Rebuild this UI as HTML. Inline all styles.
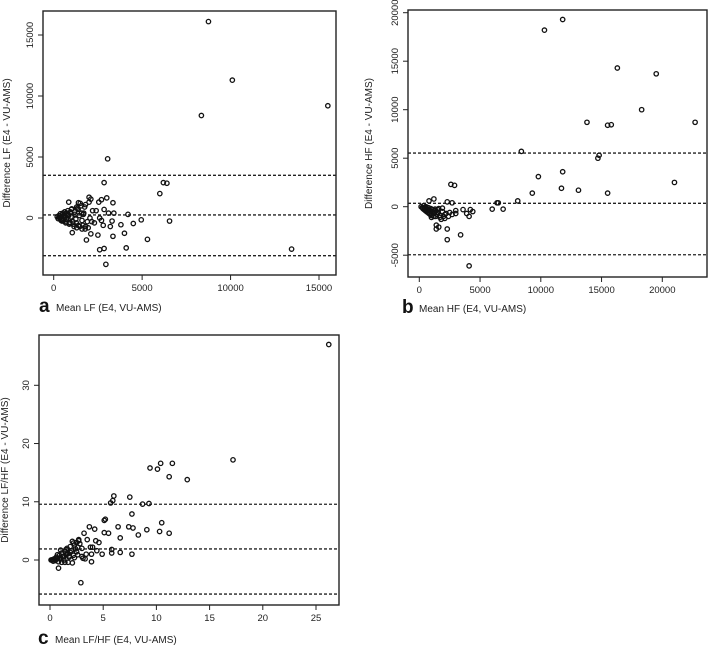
<!DOCTYPE html>
<html><head><meta charset="utf-8">
<style>
html,body{margin:0;padding:0;background:#fff;}
svg{display:block;font-family:"Liberation Sans",sans-serif;}
</style></head>
<body>
<svg id="chart" width="708" height="646" viewBox="0 0 708 646"></svg>
<script>
// ---------- Panel a data (Mean LF, Difference LF) ----------
const aX = [8750,10100,15500,8350,3050,6000,6200,6400,2850,13450,2950,2600,2850,4100,5300,4000,1850,2500,3350,2100,1050,4950,6550,4500,3800,4200,3400,3350,3000,2700,2000,2100,1400,850,2550,2850,3200,2800,3100,3300,2600,2700,1600,1800,1300,
 200,300,350,400,450,500,550,600,650,700,750,800,850,900,950,1000,1100,1200,1300,1400,1500,1600,1700,1800,1900,2000,2200,2300,250,380,480,560,620,720,820,920,1020,1150,1250,1350,1450,1550,1650,1750,1950,2150,2400,300,420,520,680,780,880,980,1080,1180,1280,1380,1480,1580,1680,1780,2050];
const aY = [16100,11300,9200,8400,4850,2000,2900,2850,2900,-2550,-3800,-2600,-2500,-2450,-1750,-1250,-1800,-1400,-1500,-1300,-1200,-150,-250,-450,-550,300,400,1250,1650,1500,1700,1550,1250,1300,1300,700,-700,-600,400,-250,0,-200,-900,-700,-800,
 100,200,0,-100,150,300,-200,250,100,-300,400,600,200,-400,500,700,-500,300,900,-600,1200,-200,400,1100,-300,1300,600,-400,-50,350,-250,150,500,-150,300,-350,750,-700,-100,800,200,1000,-600,900,-800,-300,600,50,-200,400,-400,200,-500,100,-300,500,-400,700,-700,400,300,-900,0];
const aXTicks = [0,5000,10000,15000];
const aYTicks = [0,5000,10000,15000];
const aLines = [3500,250,-3090];

// ---------- Panel b data (Mean HF, Difference HF) ----------
const bX = [11800,10300,16300,19500,18300,13800,15500,15800,22700,8400,14800,14700,9800,11800,21000,11700,13100,9300,15500,8100,6400,6500,6000,6900,4100,2300,3400,2300,1400,1600,1400,2600,2900,2300,2700,1200,800,3600,4200,4400,3900,4100,3000,3000,2700,2400,2100,1800,1000,1200,
 150,250,300,350,400,450,500,550,600,650,700,750,800,850,900,950,1000,1050,1100,1150,1250,1300,1350,1450,1500,1550,1600,1700,1900,2000,2200,500,700,900,1100,1300,1500,1700,1900,2100,2500];
const bY = [19300,18200,14300,13700,10000,8700,8400,8450,8700,5700,5300,5000,3100,3600,2500,1900,1700,1400,1400,600,400,400,-250,-250,-6100,-3400,-2900,-2300,-2300,-2100,-1900,2300,2200,500,400,800,600,-300,-300,-500,-700,-1000,-400,-700,-800,-1000,-1200,-1300,-1100,-1000,
 0,-100,-200,100,-300,-150,-400,0,-500,-250,-600,-100,-700,-350,-800,-200,-900,-500,-300,-600,-700,-400,-1000,-800,-300,-600,-200,-900,-500,-1000,-700,-50,-350,-450,-650,-250,-550,-1100,-150,-800,-600];
const bXTicks = [0,5000,10000,15000,20000];
const bYTicks = [-5000,0,5000,10000,15000,20000];
const bLines = [5530,350,-4950];

// ---------- Panel c data (Mean LF/HF, Difference LF/HF) ----------
const cX = [26.2,17.2,11.5,10.4,9.4,10.1,11.2,12.9,6.0,7.5,5.9,5.7,8.7,9.3,7.7,5.2,5.1,10.5,3.7,6.4,7.4,7.8,4.2,9.1,10.3,5.1,5.5,11.2,3.2,8.3,6.6,4.3,4.6,3.5,4.4,5.8,3.8,4.0,3.9,4.9,5.8,6.6,7.7,3.0,3.1,3.4,3.9,2.9,0.8,3.3,
 0.1,0.2,0.3,0.4,0.5,0.6,0.7,0.8,0.9,1.0,1.1,1.2,1.3,1.4,1.5,1.6,1.7,1.8,1.9,2.0,2.1,2.2,2.3,2.4,2.5,2.6,2.7,2.8,3.0,0.3,0.5,0.7,0.9,1.1,1.3,1.5,1.7,1.9,2.1,2.3,2.5,2.7,1.0,1.4,1.8,2.2,2.6,1.2,1.6,2.0];
const cY = [37,17.2,16.6,16.6,15.8,15.6,14.3,13.8,11.0,10.8,10.2,9.8,9.6,9.7,7.9,7.0,6.8,6.4,5.7,5.7,5.7,5.5,5.3,5.2,4.9,4.7,4.6,4.6,4.6,4.3,3.8,3.3,3.0,3.5,1.6,1.8,2.2,2.2,1.0,1.0,1.2,1.3,1.0,0.6,0.3,1.0,-0.3,-3.9,-1.4,0.2,
 0,0,-0.2,0.2,0,0.5,0.3,-0.3,0.8,0.4,1.2,0.6,0,1.5,0.9,2.0,1.1,0.5,2.3,1.6,3.2,0.8,2.6,1.9,3.0,2.2,3.5,2.8,2.0,0.1,-0.1,0.9,0.2,-0.4,0.6,1.8,-0.4,1.3,-0.5,0.4,1.4,3.3,1.7,-0.4,0.7,2.9,0.9,0.5,1.0,1.6];
const cXTicks = [0,5,10,15,20,25];
const cYTicks = [0,10,20,30];
const cLines = [9.57,1.9,-5.85];

const NS = "http://www.w3.org/2000/svg";
const svg = document.getElementById("chart");
function el(tag, attrs, parent){
  const e = document.createElementNS(NS, tag);
  for (const k in attrs) e.setAttribute(k, attrs[k]);
  (parent||svg).appendChild(e);
  return e;
}

function panel(cfg){
  const g = el("g", {});
  
  
  const sx = v => cfg.x0 + (v - cfg.xv0) * cfg.xs;
  const sy = v => cfg.y0 - (v - cfg.yv0) * cfg.ys;
  const box = el("rect", {x:cfg.bx, y:cfg.by, width:cfg.bw, height:cfg.bh, fill:"none", stroke:"#222", "stroke-width":1.4}, g);
  
  
  const xb = cfg.by + cfg.bh;
  cfg.xt.forEach(t => {
    const x = sx(t);
    const tk = el("line", {x1:x, x2:x, y1:xb, y2:xb+5, stroke:"#222", "stroke-width":1}, g);
    
    
    const tx = el("text", {x:x, y:xb+16, "font-size":9.5, "text-anchor":"middle", fill:"#222"}, g);
    
    
    tx.textContent = t;
  });
  cfg.yt.forEach(t => {
    const y = sy(t);
    const tk = el("line", {x1:cfg.bx-5, x2:cfg.bx, y1:y, y2:y, stroke:"#222", "stroke-width":1}, g);
    
    
    const tx = el("text", {x:cfg.bx-10, y:y, "font-size":9.5, "text-anchor":"middle", fill:"#222", transform:`rotate(-90 ${cfg.bx-10} ${y})`}, g);
    
    
    tx.textContent = t;
  });
  cfg.lines.forEach(v => {
    const y = sy(v);
    const ln = el("line", {x1:cfg.bx, x2:cfg.bx+cfg.bw, y1:y, y2:y, stroke:"#222", "stroke-width":1.3, "stroke-dasharray":"3,2"}, g);
    
    
  });
  cfg.xs_.forEach((xv, i) => {
    const c = el("circle", {cx:sx(xv), cy:sy(cfg.ys_[i]), r:2.2, fill:"none", stroke:"#111", "stroke-width":1.3}, g);
    
    
  });
  const yl = el("text", {x:cfg.ylx, y:cfg.by+cfg.bh/2, "font-size":10, "text-anchor":"middle", fill:"#222", transform:`rotate(-90 ${cfg.ylx} ${cfg.by+cfg.bh/2})`}, g);
  
  
  yl.textContent = cfg.ytitle;
  const lt = el("text", {x:cfg.lx, y:cfg.ly, "font-size":19, "font-weight":"bold", fill:"#111"}, g);
  
  
  lt.textContent = cfg.letter;
  const xl = el("text", {x:cfg.lx+17, y:cfg.ly-1, "font-size":10, fill:"#222"}, g);
  
  
  xl.textContent = cfg.xtitle;
}

panel({name:"panel-a", bx:43, by:11, bw:293, bh:264, x0:53.7, xv0:0, xs:265.3/15000, y0:218, yv0:0, ys:183/15000,
  xt:aXTicks, yt:aYTicks, lines:aLines, xs_:aX, ys_:aY, ylx:10, ytitle:"Difference LF (E4 - VU-AMS)",
  letter:"a", lx:39, ly:312, xtitle:"Mean LF (E4, VU-AMS)"});
panel({name:"panel-b", bx:408, by:10, bw:299, bh:267, x0:419.3, xv0:0, xs:243/20000, y0:206.7, yv0:0, ys:194/20000,
  xt:bXTicks, yt:bYTicks, lines:bLines, xs_:bX, ys_:bY, ylx:372, ytitle:"Difference HF (E4 - VU-AMS)",
  letter:"b", lx:402, ly:313, xtitle:"Mean HF (E4, VU-AMS)"});
panel({name:"panel-c", bx:39, by:335, bw:300, bh:270, x0:50, xv0:0, xs:266/25, y0:560, yv0:0, ys:174.7/30,
  xt:cXTicks, yt:cYTicks, lines:cLines, xs_:cX, ys_:cY, ylx:8, ytitle:"Difference LF/HF (E4 - VU-AMS)",
  letter:"c", lx:38, ly:644, xtitle:"Mean LF/HF (E4, VU-AMS)"});
</script>
</body></html>
